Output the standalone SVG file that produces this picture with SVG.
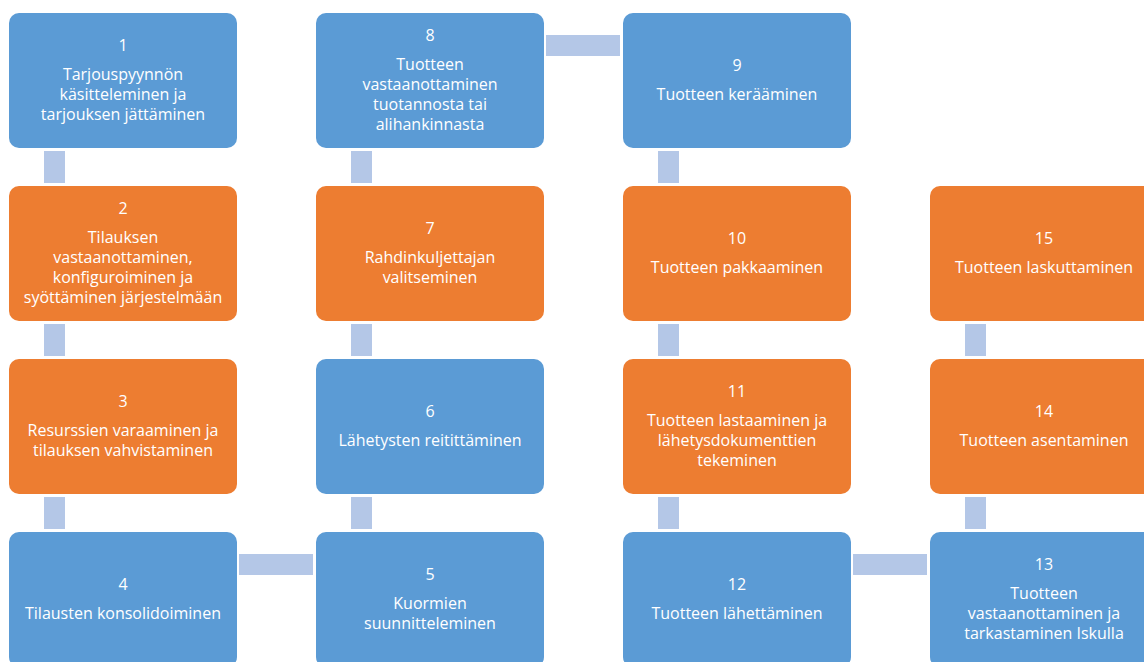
<svg xmlns="http://www.w3.org/2000/svg" width="1144" height="662" viewBox="0 0 1144 662">
<style>
.b{fill:#5B9BD5}
.o{fill:#ED7D31}
.c{fill:#B4C7E7}
text{fill:#ffffff;font-family:"Open Sans","Noto Sans","Liberation Sans",sans-serif;font-size:16px;text-anchor:middle}
</style>
<rect width="1144" height="662" fill="#ffffff"/>
<g id="connectors">
<rect class="c" x="44" y="151" width="21" height="32"/>
<rect class="c" x="44" y="324" width="21" height="32"/>
<rect class="c" x="44" y="497" width="21" height="32"/>
<rect class="c" x="351" y="151" width="21" height="32"/>
<rect class="c" x="351" y="324" width="21" height="32"/>
<rect class="c" x="351" y="497" width="21" height="32"/>
<rect class="c" x="658" y="151" width="21" height="32"/>
<rect class="c" x="658" y="324" width="21" height="32"/>
<rect class="c" x="658" y="497" width="21" height="32"/>
<rect class="c" x="965" y="324" width="21" height="32"/>
<rect class="c" x="965" y="497" width="21" height="32"/>
<rect class="c" x="239" y="554" width="74" height="21"/>
<rect class="c" x="546" y="35" width="74" height="21"/>
<rect class="c" x="853" y="554" width="74" height="21"/>
</g>
<g id="node1"><rect class="b" x="9" y="13" width="228" height="135" rx="10"/>
<text x="123" y="51">1</text><text x="123" y="80">Tarjouspyynnön</text><text x="123" y="100">käsitteleminen ja</text><text x="123" y="120">tarjouksen jättäminen</text></g>
<g id="node2"><rect class="o" x="9" y="186" width="228" height="135" rx="10"/>
<text x="123" y="214">2</text><text x="123" y="243">Tilauksen</text><text x="123" y="263">vastaanottaminen,</text><text x="123" y="283">konfiguroiminen ja</text><text x="123" y="303">syöttäminen järjestelmään</text></g>
<g id="node3"><rect class="o" x="9" y="359" width="228" height="135" rx="10"/>
<text x="123" y="407">3</text><text x="123" y="436">Resurssien varaaminen ja</text><text x="123" y="456">tilauksen vahvistaminen</text></g>
<g id="node4"><rect class="b" x="9" y="532" width="228" height="135" rx="10"/>
<text x="123" y="590">4</text><text x="123" y="619">Tilausten konsolidoiminen</text></g>
<g id="node5"><rect class="b" x="316" y="532" width="228" height="135" rx="10"/>
<text x="430" y="580">5</text><text x="430" y="609">Kuormien</text><text x="430" y="629">suunnitteleminen</text></g>
<g id="node6"><rect class="b" x="316" y="359" width="228" height="135" rx="10"/>
<text x="430" y="417">6</text><text x="430" y="446">Lähetysten reitittäminen</text></g>
<g id="node7"><rect class="o" x="316" y="186" width="228" height="135" rx="10"/>
<text x="430" y="234">7</text><text x="430" y="263">Rahdinkuljettajan</text><text x="430" y="283">valitseminen</text></g>
<g id="node8"><rect class="b" x="316" y="13" width="228" height="135" rx="10"/>
<text x="430" y="41">8</text><text x="430" y="70">Tuotteen</text><text x="430" y="90">vastaanottaminen</text><text x="430" y="110">tuotannosta tai</text><text x="430" y="130">alihankinnasta</text></g>
<g id="node9"><rect class="b" x="623" y="13" width="228" height="135" rx="10"/>
<text x="737" y="71">9</text><text x="737" y="100">Tuotteen kerääminen</text></g>
<g id="node10"><rect class="o" x="623" y="186" width="228" height="135" rx="10"/>
<text x="737" y="244">10</text><text x="737" y="273">Tuotteen pakkaaminen</text></g>
<g id="node11"><rect class="o" x="623" y="359" width="228" height="135" rx="10"/>
<text x="737" y="397">11</text><text x="737" y="426">Tuotteen lastaaminen ja</text><text x="737" y="446">lähetysdokumenttien</text><text x="737" y="466">tekeminen</text></g>
<g id="node12"><rect class="b" x="623" y="532" width="228" height="135" rx="10"/>
<text x="737" y="590">12</text><text x="737" y="619">Tuotteen lähettäminen</text></g>
<g id="node13"><rect class="b" x="930" y="532" width="228" height="135" rx="10"/>
<text x="1044" y="570">13</text><text x="1044" y="599">Tuotteen</text><text x="1044" y="619">vastaanottaminen ja</text><text x="1044" y="639">tarkastaminen Iskulla</text></g>
<g id="node14"><rect class="o" x="930" y="359" width="228" height="135" rx="10"/>
<text x="1044" y="417">14</text><text x="1044" y="446">Tuotteen asentaminen</text></g>
<g id="node15"><rect class="o" x="930" y="186" width="228" height="135" rx="10"/>
<text x="1044" y="244">15</text><text x="1044" y="273">Tuotteen laskuttaminen</text></g>
</svg>
